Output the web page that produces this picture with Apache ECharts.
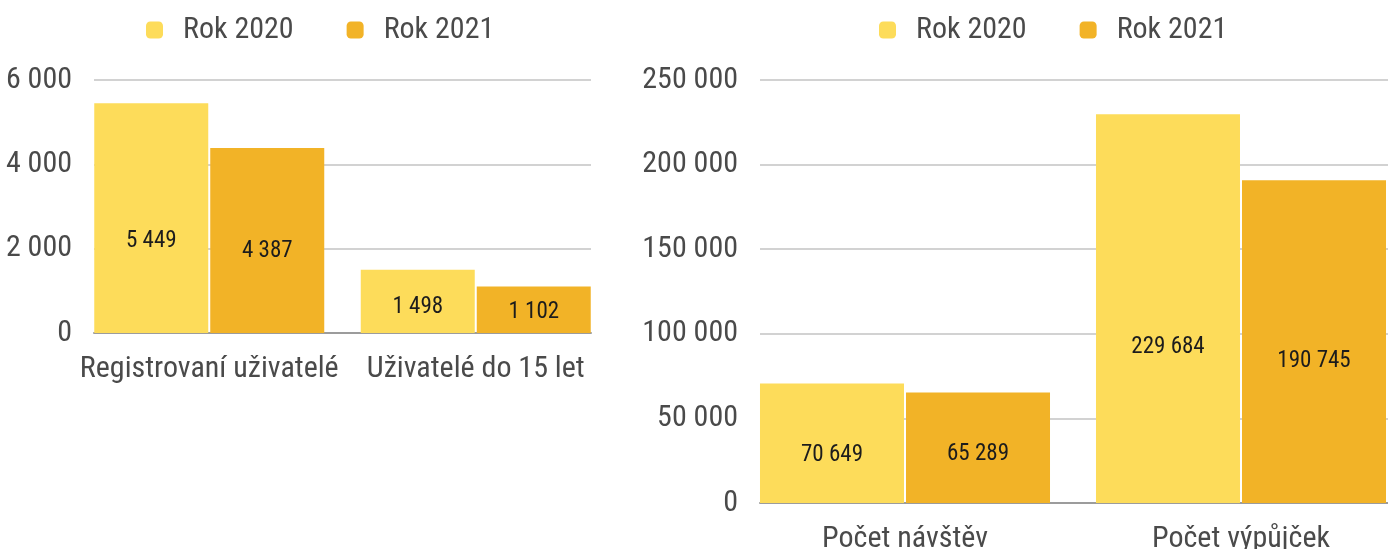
<!DOCTYPE html>
<html>
<head>
<meta charset="utf-8">
<script src="https://cdn.jsdelivr.net/npm/echarts@6/dist/echarts.min.js"></script>
<style>
  html, body { margin: 0; padding: 0; background: #fff; }
  #chart { width: 1388px; height: 549px; }
</style>
</head>
<body>
<div id="chart"></div>
<script>
// data
const usersCategories = ['Registrovaní uživatelé', 'Uživatelé do 15 let'];
const users2020 = [5449, 1498];
const users2021 = [4387, 1102];
const usersAxis = { max: 6000, interval: 2000 };

const activityCategories = ['Počet návštěv', 'Počet výpůjček'];
const activity2020 = [70649, 229684];
const activity2021 = [65289, 190745];
const activityAxis = { max: 250000, interval: 50000 };

const seriesNames = ['Rok 2020', 'Rok 2021'];

const FONT = "'Liberation Sans Narrow', 'Roboto Condensed', 'DejaVu Sans Condensed', sans-serif";
const COL_2020 = '#fddc5a';
const COL_2021 = '#f2b327';

const fmt = v => String(v).replace(/\B(?=(\d{3})+(?!\d))/g, ' ');

const chart = echarts.init(document.getElementById('chart'));

const valueLabel = (yPos) => ({
  show: true,
  position: ['50%', yPos],
  align: 'center',
  verticalAlign: 'middle',
  color: '#1c1c1c',
  fontFamily: FONT,
  fontSize: 23,
  formatter: p => fmt(p.value)
});

// grid with gridlines + y labels, and a wider grid for the bars so that
// bars touch the ends of the plotted area
const lineAxisY = (cfg, grid) => ({
  type: 'value', gridIndex: grid, min: 0, max: cfg.max, interval: cfg.interval,
  axisLine: { show: false }, axisTick: { show: false },
  axisLabel: { color: '#4a4a4a', fontFamily: FONT, fontSize: 30, margin: 22, formatter: fmt },
  splitLine: { lineStyle: { color: '#d2d2d2', width: 2 } }
});
const barAxisY = (cfg, grid) => ({
  type: 'value', gridIndex: grid, min: 0, max: cfg.max, interval: cfg.interval, show: false,
  splitLine: { show: false }
});
const lineAxisX = (cats, grid) => ({
  type: 'category', gridIndex: grid, data: cats,
  axisLine: { lineStyle: { color: '#9c9c9c', width: 2 } },
  axisTick: { show: false }, axisLabel: { show: false }
});
const barAxisX = (cats, grid) => ({
  type: 'category', gridIndex: grid, data: cats,
  axisLine: { show: false }, axisTick: { show: false },
  axisLabel: { color: '#4a4a4a', fontFamily: FONT, fontSize: 30, margin: 21, interval: 0 }
});

const legendBase = {
  data: seriesNames,
  top: 10,
  icon: 'roundRect',
  itemWidth: 17,
  itemHeight: 17,
  itemGap: 53,
  textStyle: { color: '#4a4a4a', fontFamily: FONT, fontSize: 30, padding: [0, 0, 0, 15] }
};

chart.setOption({
  animation: false,
  legend: [
    Object.assign({}, legendBase, { left: 141 }),
    Object.assign({}, legendBase, { left: 874 })
  ],
  grid: [
    { left: 94, right: 797, top: 80, bottom: 216, outerBoundsMode: 'none' },
    { left: 76, width: 533, top: 80, bottom: 216, outerBoundsMode: 'none' },
    { left: 760, right: 0, top: 80, bottom: 46, outerBoundsMode: 'none' },
    { left: 737, right: -21, top: 80, bottom: 46, outerBoundsMode: 'none' }
  ],
  xAxis: [
    lineAxisX(usersCategories, 0),
    barAxisX(usersCategories, 1),
    lineAxisX(activityCategories, 2),
    barAxisX(activityCategories, 3)
  ],
  yAxis: [
    lineAxisY(usersAxis, 0),
    barAxisY(usersAxis, 1),
    lineAxisY(activityAxis, 2),
    barAxisY(activityAxis, 3)
  ],
  series: [
    { name: seriesNames[0], type: 'bar', xAxisIndex: 1, yAxisIndex: 1, data: users2020,
      barWidth: 114, barGap: '1.75%', itemStyle: { color: COL_2020 }, label: valueLabel('60%') },
    { name: seriesNames[1], type: 'bar', xAxisIndex: 1, yAxisIndex: 1, data: users2021,
      barWidth: 114, barGap: '1.75%', itemStyle: { color: COL_2021 }, label: valueLabel('56%') },
    { name: seriesNames[0], type: 'bar', xAxisIndex: 3, yAxisIndex: 3, data: activity2020,
      barWidth: 144, barGap: '1.4%', itemStyle: { color: COL_2020 }, label: valueLabel('60%') },
    { name: seriesNames[1], type: 'bar', xAxisIndex: 3, yAxisIndex: 3, data: activity2021,
      barWidth: 144, barGap: '1.4%', itemStyle: { color: COL_2021 }, label: valueLabel('56%') }
  ]
});
</script>
</body>
</html>
